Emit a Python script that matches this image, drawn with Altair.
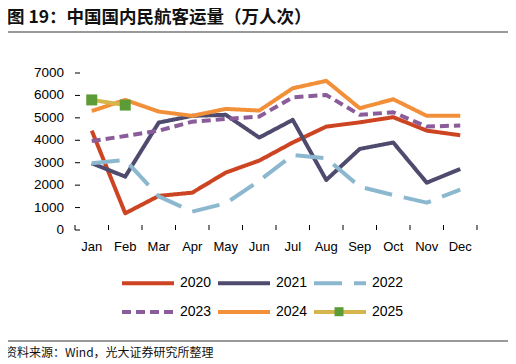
import altair as alt
import pandas as pd

months = ["Jan", "Feb", "Mar", "Apr", "May", "Jun", "Jul", "Aug", "Sep", "Oct", "Nov", "Dec"]
years = ["2020", "2021", "2022", "2023", "2024", "2025"]
v2020 = [4430, 745, 1520, 1665, 2560, 3095, 3900, 4610, 4800, 5030, 4430, 4225]
v2021 = [2975, 2380, 4790, 5090, 5135, 4120, 4910, 2230, 3615, 3900, 2110, 2720]
v2022 = [2975, 3125, 1500, 820, 1190, 2200, 3345, 3195, 1930, 1560, 1220, 1800]
v2023 = [3970, 4190, 4430, 4830, 4950, 5060, 5915, 6020, 5135, 5250, 4610, 4660]
v2024 = [5305, 5800, 5280, 5090, 5400, 5325, 6320, 6650, 5430, 5830, 5090, 5090]
v2025 = [5800, 5570]
y_ticks = [0, 1000, 2000, 3000, 4000, 5000, 6000, 7000]

title_text = "图 19：中国国内民航客运量（万人次）"
source_text = "资料来源：Wind，光大证券研究所整理"

colors = ["#cc4422", "#4e4b6e", "#8cb8cf", "#8a5c99", "#f2903a", "#d6b64c"]
dashes = [[1, 0], [1, 0], [28, 12], [9, 5], [1, 0], [1, 0]]
green = "#5c9c36"
FONT = "Liberation Sans"
CJK = "Noto Sans CJK SC"

series = [v2020, v2021, v2022, v2023, v2024, v2025]
rows = []
for yr, vals in zip(years, series):
    for i, v in enumerate(vals):
        rows.append({"year": yr, "m": i + 1, "value": v})
df = pd.DataFrame(rows)

W, H = 402, 157

xscale = alt.Scale(domain=[0.5, len(months) + 0.5], nice=False, zero=False)
yscale = alt.Scale(domain=[0, 7000], nice=False)

legend = alt.Legend(
    title=None, orient="none", legendX=45, legendY=201.5, columns=3, direction="horizontal",
    symbolType="M-1,0H7", symbolSize=169, symbolStrokeWidth=4,
    labelOffset=43, columnPadding=-2, rowPadding=12, padding=0,
    labelFont=FONT, labelFontSize=14, labelColor="#000",
)

lines = alt.Chart(df).mark_line(strokeWidth=4, strokeJoin="round").encode(
    x=alt.X("m:Q", scale=xscale,
            axis=alt.Axis(labels=False, ticks=False, grid=False, title=None, domainColor="#000")),
    y=alt.Y("value:Q", scale=yscale,
            axis=alt.Axis(labels=False, ticks=False, grid=False, title=None, domainColor="#000")),
    color=alt.Color("year:N", scale=alt.Scale(domain=years, range=colors), legend=legend),
    strokeDash=alt.StrokeDash("year:N", scale=alt.Scale(domain=years, range=dashes), legend=legend),
    order=alt.Order("m:Q"),
)

sq_legend = alt.Legend(
    title=None, orient="none", legendX=259.5, legendY=234.2, padding=0,
    symbolType="square", symbolSize=81, symbolStrokeWidth=0,
    labelFontSize=1, labelOpacity=0, zindex=3,
)

points = alt.Chart(df[df["year"] == "2025"]).mark_point(shape="square", filled=True, size=121, opacity=1).encode(
    x=alt.X("m:Q", scale=xscale, axis=None),
    y=alt.Y("value:Q", scale=yscale, axis=None),
    fill=alt.Fill("year:N", scale=alt.Scale(domain=["2025"], range=[green]), legend=sq_legend),
)

xb = pd.DataFrame({"b": [i + 0.5 for i in range(len(months) + 1)]})
xticks = alt.Chart(xb).mark_rule(color="#000", strokeWidth=1).encode(
    x=alt.X("b:Q", scale=xscale, axis=None), y=alt.value(H - 5), y2=alt.value(H)
)
yb = pd.DataFrame({"v": y_ticks})
yticks = alt.Chart(yb).mark_rule(color="#000", strokeWidth=1).encode(
    y=alt.Y("v:Q", scale=yscale, axis=None), x=alt.value(0), x2=alt.value(5)
)
ylabels = alt.Chart(yb).mark_text(align="right", baseline="middle", font=FONT, fontSize=13.5,
                                  color="#000").encode(
    y=alt.Y("v:Q", scale=yscale, axis=None), x=alt.value(-11), text="v:Q"
)
mdf = pd.DataFrame({"m": list(range(1, len(months) + 1)), "name": months})
xlabels = alt.Chart(mdf).mark_text(align="center", baseline="middle", font=FONT, fontSize=13,
                                   color="#000").encode(
    x=alt.X("m:Q", scale=xscale, axis=None), y=alt.value(H + 17), text="name:N"
)

one = pd.DataFrame({"t": [title_text], "s": [source_text]})
title = alt.Chart(one).mark_text(align="left", baseline="middle", font=CJK,
                                 fontWeight="bold", fontSize=17.5, color="#111").encode(
    text="t:N", x=alt.value(-68), y=alt.value(-55.5))
source = alt.Chart(one).mark_text(align="left", baseline="middle", font=CJK,
                                  fontSize=12, color="#111").encode(
    text="s:N", x=alt.value(-70), y=alt.value(279.5))
top_rule = alt.Chart(one).mark_rule(color="#777", strokeWidth=1.5).encode(
    x=alt.value(-68), x2=alt.value(435), y=alt.value(-41))
bot_rule = alt.Chart(one).mark_rule(color="#777", strokeWidth=1.5).encode(
    x=alt.value(-72), x2=alt.value(435), y=alt.value(268))

chart = alt.layer(lines, points, xticks, yticks, ylabels, xlabels, title, source, top_rule, bot_rule).properties(
    width=W, height=H,
    padding={"left": 67, "top": 65, "right": 31, "bottom": 134},
    autosize=alt.AutoSizeParams(type="none"),
    background="white",
).configure_view(stroke=None)

chart.save("out.html", embed_options={"renderer": "svg", "actions": False})
